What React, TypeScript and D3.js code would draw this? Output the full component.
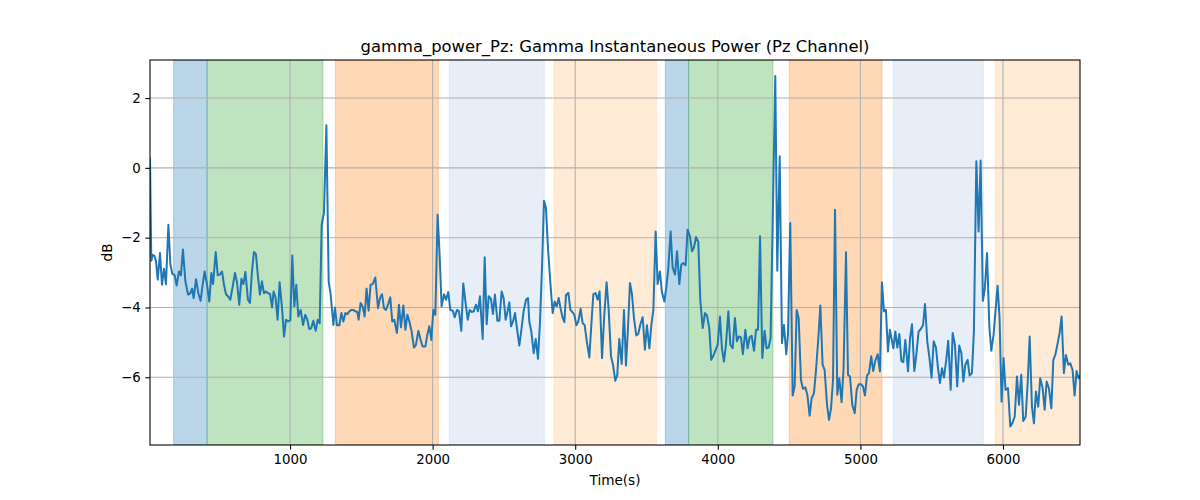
import React, { useEffect, useRef } from 'react';
import * as d3 from 'd3';

// [time (s), power (dB)]
const gammaPz: [number, number][] = [
  [18, 0.29], [27, -2.66], [37, -2.49], [51, -2.53], [60, -2.68], [72, -3.2], [88, -2.44], [102, -3.35], [116, -2.89], [130, -3.33],
  [147, -1.63], [161, -2.77], [175, -3.04], [191, -3.08], [205, -3.37], [221, -2.97], [235, -3.08], [249, -2.34], [266, -3.25], [285, -3.63],
  [299, -3.6], [313, -3.46], [324, -3.73], [341, -3.19], [357, -3.59], [373, -3.81], [387, -3.35], [401, -2.97], [418, -3.35], [434, -3.83],
  [448, -3.01], [460, -3.33], [479, -2.41], [493, -3.08], [507, -3.06], [523, -2.97], [537, -3.35], [551, -3.62], [565, -3.68], [581, -3.78],
  [598, -3.4], [614, -3.01], [628, -3.27], [644, -3.92], [659, -3.18], [673, -3.33], [687, -2.98], [705, -3.78], [719, -3.87], [733, -2.97],
  [747, -2.41], [761, -2.47], [775, -3.11], [789, -3.63], [803, -3.25], [817, -3.59], [831, -3.54], [846, -3.59], [860, -3.62], [874, -4.0],
  [885, -3.54], [899, -3.73], [913, -4.35], [927, -3.28], [944, -4.02], [958, -4.83], [972, -4.35], [986, -4.4], [1002, -4.37], [1016, -2.51],
  [1030, -3.97], [1044, -3.35], [1058, -4.26], [1075, -4.07], [1091, -4.5], [1107, -4.21], [1121, -4.35], [1135, -4.62], [1149, -4.59], [1163, -4.38],
  [1180, -4.67], [1194, -4.35], [1208, -4.45], [1222, -1.63], [1238, -1.29], [1255, 1.22], [1271, -3.25], [1285, -3.63], [1304, -4.5], [1315, -4.0],
  [1329, -4.51], [1346, -4.51],
  [1360, -4.16], [1374, -4.4], [1388, -4.16], [1402, -4.19], [1416, -4.11], [1430, -4.07], [1444, -4.07], [1458, -4.11], [1472, -4.13], [1481, -4.35],
  [1495, -3.87], [1509, -3.97], [1523, -4.26], [1537, -3.46], [1551, -4.09], [1565, -3.35], [1580, -3.33], [1598, -3.14], [1617, -4.02], [1631, -3.73],
  [1645, -3.62], [1659, -4.02], [1673, -4.07], [1687, -3.92], [1703, -3.71], [1717, -4.4], [1731, -4.35], [1750, -4.73], [1764, -3.92], [1778, -4.57],
  [1795, -3.94], [1809, -4.64], [1823, -4.21], [1837, -4.4], [1853, -4.69], [1869, -5.15], [1883, -5.07], [1900, -4.67], [1916, -4.93], [1930, -5.12],
  [1949, -5.12], [1963, -4.78], [1977, -4.54], [1991, -4.93], [2005, -4.07], [2019, -4.21], [2035, -1.34], [2049, -2.49], [2063, -3.97], [2080, -3.62],
  [2094, -3.78], [2110, -3.56], [2124, -4.07], [2141, -4.09], [2155, -4.28], [2171, -4.07], [2185, -4.11], [2201, -4.67], [2215, -3.31], [2232, -3.9],
  [2246, -4.35], [2260, -4.07], [2274, -4.13], [2288, -4.11], [2304, -3.92], [2318, -4.11], [2332, -3.68], [2351, -4.9], [2365, -2.56], [2379, -4.48],
  [2393, -3.68], [2409, -3.75], [2423, -4.19], [2437, -3.63], [2454, -4.38], [2468, -4.38], [2484, -3.54], [2498, -3.73], [2512, -4.35], [2526, -4.11],
  [2538, -3.85], [2550, -4.54], [2564, -4.4], [2578, -4.16], [2592, -4.61], [2608, -5.09], [2624, -4.59], [2638, -4.11], [2655, -3.78], [2669, -3.73],
  [2678, -4.4], [2692, -4.69], [2709, -5.31], [2723, -4.9], [2739, -5.47], [2753, -4.4], [2767, -2.87], [2781, -0.94], [2795, -1.15], [2809, -2.3],
  [2825, -3.25], [2842, -4.16], [2856, -3.83], [2870, -3.97], [2884, -3.73], [2898, -4.04], [2912, -4.3], [2924, -4.42], [2935, -3.65], [2952, -3.58],
  [2966, -4.07], [2980, -4.13], [2994, -4.21], [3008, -4.51], [3022, -4.4], [3038, -4.04], [3052, -4.45], [3066, -4.5], [3083, -5.02], [3099, -5.43],
  [3113, -4.5], [3127, -3.62], [3143, -3.59], [3157, -3.78], [3171, -3.54], [3188, -5.45], [3204, -4.21], [3220, -3.28], [3234, -4.02], [3251, -5.4],
  [3265, -5.64], [3281, -6.1], [3295, -5.93], [3309, -4.9], [3326, -5.62], [3342, -4.07], [3356, -5.66], [3370, -4.59], [3384, -3.3], [3398, -3.62],
  [3412, -4.3], [3428, -4.8], [3442, -4.76], [3457, -4.48], [3473, -4.28], [3489, -5.21], [3503, -4.51], [3520, -5.17], [3534, -4.5], [3548, -4.07],
  [3564, -1.82], [3578, -3.33], [3594, -2.97], [3608, -3.56], [3625, -3.83], [3639, -3.42], [3653, -2.87], [3669, -1.82], [3683, -2.85], [3700, -3.06],
  [3714, -2.39], [3730, -3.33], [3744, -2.77], [3758, -2.73], [3774, -2.79], [3788, -1.77], [3805, -1.96], [3819, -2.39], [3833, -2.28], [3847, -1.98],
  [3863, -2.12], [3877, -3.78], [3894, -4.59], [3910, -4.16], [3924, -4.23], [3940, -4.59], [3954, -5.5], [3971, -5.36],
  [3999, -5.07], [4015, -4.26], [4029, -5.17], [4043, -5.55], [4057, -5.07], [4074, -4.11], [4088, -5.07], [4104, -5.17], [4120, -4.3], [4134, -4.97],
  [4148, -4.83], [4162, -4.86], [4176, -5.34], [4193, -4.64], [4209, -5.17], [4223, -4.86], [4237, -4.81], [4254, -5.24], [4268, -4.64], [4282, -4.64],
  [4296, -1.96], [4312, -5.45], [4328, -4.67], [4342, -5.17], [4356, -5.15], [4370, -4.88], [4385, -1.53], [4403, 2.63], [4417, -2.95], [4434, 0.33],
  [4450, -5.02], [4464, -4.5], [4480, -5.34], [4492, -4.78], [4508, -1.58], [4525, -6.52], [4539, -6.26], [4553, -4.07], [4567, -4.3], [4583, -6.07],
  [4597, -6.33], [4614, -6.29], [4628, -6.5], [4644, -7.1], [4658, -6.6], [4674, -6.46], [4688, -5.83], [4705, -4.88], [4719, -3.94], [4735, -5.64],
  [4749, -5.79], [4766, -6.79], [4780, -7.22], [4794, -6.89], [4808, -6.07], [4822, -1.2], [4838, -6.5], [4852, -6.03], [4868, -6.71], [4882, -5.74],
  [4899, -2.42], [4913, -5.93], [4927, -5.98], [4943, -6.79], [4960, -7.03], [4974, -6.36], [4988, -6.2], [5004, -6.2], [5018, -6.26], [5032, -6.52],
  [5046, -5.95], [5060, -5.88], [5076, -5.4], [5090, -5.82], [5104, -5.53], [5121, -5.34], [5137, -5.83], [5151, -3.28], [5165, -4.11], [5179, -4.07],
  [5193, -5.26], [5207, -4.64], [5221, -4.95], [5231, -5.17], [5245, -4.69], [5259, -5.15], [5273, -4.76], [5287, -5.53], [5301, -5.57], [5315, -4.93],
  [5334, -5.83],
  [5348, -4.88], [5362, -4.48], [5378, -5.82], [5392, -5.36], [5408, -4.69], [5425, -4.61], [5439, -4.51], [5453, -3.9], [5469, -4.97], [5483, -5.4],
  [5499, -6.01], [5514, -4.97], [5530, -5.15], [5544, -5.74], [5558, -6.17], [5572, -5.74], [5586, -6.01], [5602, -5.5], [5616, -4.95], [5633, -6.36],
  [5647, -4.73], [5663, -5.07], [5679, -6.26], [5693, -5.09], [5708, -5.31], [5722, -6.12], [5736, -5.64], [5752, -5.5], [5766, -5.95], [5782, -5.88],
  [5796, -4.69], [5813, 0.19], [5829, -1.82], [5843, 0.21], [5859, -3.81], [5873, -3.44], [5888, -2.44], [5904, -4.54], [5918, -5.24], [5934, -4.78],
  [5948, -4.07], [5962, -3.38], [5976, -4.3], [5990, -6.7], [6004, -5.45], [6018, -6.36], [6035, -6.31], [6051, -7.41], [6065, -7.32], [6082, -7.13],
  [6098, -5.98], [6112, -6.79], [6128, -5.93], [6142, -7.25], [6159, -7.13], [6173, -6.17], [6187, -4.83], [6203, -6.84], [6217, -7.32], [6231, -6.41],
  [6247, -6.84], [6261, -6.03], [6278, -6.31], [6292, -6.93], [6306, -6.12], [6322, -6.31], [6339, -6.89], [6353, -5.5], [6367, -5.36], [6381, -5.07],
  [6397, -4.73], [6411, -4.26], [6427, -5.88], [6441, -5.36], [6458, -5.64], [6472, -5.6], [6488, -5.79], [6502, -6.52], [6516, -5.82], [6530, -6.03],
  [6540, -5.95],
];

// shaded stage intervals: [start, end, kind]
const stages: [number, number, string][] = [
  [184, 418, 'blue'],
  [418, 1231, 'green'],
  [1318, 2040, 'orange'],
  [2117, 2783, 'lightblue'],
  [2853, 3569, 'lightorange'],
  [3632, 3795, 'blue'],
  [3795, 4387, 'green'],
  [4501, 5151, 'orange'],
  [5231, 5862, 'lightblue'],
  [5946, 6560, 'lightorange'],
];

const xTicks = [1000, 2000, 3000, 4000, 5000, 6000];
const yTicks = [-6, -4, -2, 0, 2];
const xDomain: [number, number] = [18, 6540];
const yDomain: [number, number] = [-7.94, 3.09];

const stageColor: Record<string, string> = {
  blue: '#1f77b4',
  green: '#2ca02c',
  orange: '#ff7f0e',
  lightblue: '#aec7e8',
  lightorange: '#ffbb78',
};

export default function App() {
  const ref = useRef<SVGSVGElement>(null);

  useEffect(() => {
    const width = 1200;
    const height = 500;
    const left = 150;
    const right = 1080;
    const top = 60;
    const bottom = 445;
    const font = 'DejaVu Sans, sans-serif';

    const svg = d3.select(ref.current);
    svg.selectAll('*').remove();
    svg.attr('width', width).attr('height', height);

    const x = d3.scaleLinear().domain(xDomain).range([left, right]);
    const y = d3.scaleLinear().domain(yDomain).range([bottom, top]);

    svg
      .append('defs')
      .append('clipPath')
      .attr('id', 'plot-clip')
      .append('rect')
      .attr('x', left)
      .attr('y', top)
      .attr('width', right - left)
      .attr('height', bottom - top);

    const plot = svg.append('g').attr('clip-path', 'url(#plot-clip)');

    plot
      .selectAll('rect.stage')
      .data(stages)
      .enter()
      .append('rect')
      .attr('class', 'stage')
      .attr('x', d => x(d[0]))
      .attr('y', top)
      .attr('width', d => x(d[1]) - x(d[0]))
      .attr('height', bottom - top)
      .attr('fill', d => stageColor[d[2]])
      .attr('fill-opacity', 0.3)
      .attr('stroke', d => stageColor[d[2]])
      .attr('stroke-opacity', 0.3)
      .attr('stroke-width', 1);

    // grid
    plot
      .selectAll('line.xgrid')
      .data(xTicks)
      .enter()
      .append('line')
      .attr('x1', d => x(d))
      .attr('x2', d => x(d))
      .attr('y1', top)
      .attr('y2', bottom)
      .attr('stroke', '#b0b0b0')
      .attr('stroke-width', 1.07);
    plot
      .selectAll('line.ygrid')
      .data(yTicks)
      .enter()
      .append('line')
      .attr('x1', left)
      .attr('x2', right)
      .attr('y1', d => y(d))
      .attr('y2', d => y(d))
      .attr('stroke', '#b0b0b0')
      .attr('stroke-width', 1.07);

    const line = d3
      .line<[number, number]>()
      .x(d => x(d[0]))
      .y(d => y(d[1]));

    plot
      .append('path')
      .datum(gammaPz)
      .attr('d', line)
      .attr('fill', 'none')
      .attr('stroke', '#1f77b4')
      .attr('stroke-width', 2)
      .attr('stroke-linejoin', 'round');

    // axes
    const fmt = (v: number) => String(v).replace('-', '\u2212');
    const xAxis = d3
      .axisBottom(x)
      .tickValues(xTicks)
      .tickSize(4.67)
      .tickPadding(4.67)
      .tickFormat(d => fmt(d as number));
    const yAxis = d3
      .axisLeft(y)
      .tickValues(yTicks)
      .tickSize(4.67)
      .tickPadding(4.67)
      .tickFormat(d => fmt(d as number));

    const gx = svg.append('g').attr('transform', `translate(0,${bottom})`).call(xAxis);
    const gy = svg.append('g').attr('transform', `translate(${left},0)`).call(yAxis);
    [gx, gy].forEach(g => {
      g.select('.domain').remove();
      g.selectAll('.tick line').attr('stroke', '#000').attr('stroke-width', 1.07);
      g.selectAll('.tick text')
        .attr('fill', '#000')
        .style('font-family', font)
        .style('font-size', '13.33px');
    });

    svg
      .append('rect')
      .attr('x', left)
      .attr('y', top)
      .attr('width', right - left)
      .attr('height', bottom - top)
      .attr('fill', 'none')
      .attr('stroke', '#000')
      .attr('stroke-width', 1.07);

    svg
      .append('text')
      .attr('x', (left + right) / 2)
      .attr('y', 52)
      .attr('text-anchor', 'middle')
      .style('font-family', font)
      .style('font-size', '16.4px')
      .text('gamma_power_Pz: Gamma Instantaneous Power (Pz Channel)');

    svg
      .append('text')
      .attr('x', (left + right) / 2)
      .attr('y', 485)
      .attr('text-anchor', 'middle')
      .style('font-family', font)
      .style('font-size', '13.6px')
      .text('Time(s)');

    svg
      .append('text')
      .attr('transform', `translate(112,${(top + bottom) / 2}) rotate(-90)`)
      .attr('text-anchor', 'middle')
      .style('font-family', font)
      .style('font-size', '13.6px')
      .text('dB');
  }, []);

  return (
    <div>
      <svg ref={ref} style={{ position: 'absolute', left: 0, top: 0, background: '#fff' }} />
    </div>
  );
}
